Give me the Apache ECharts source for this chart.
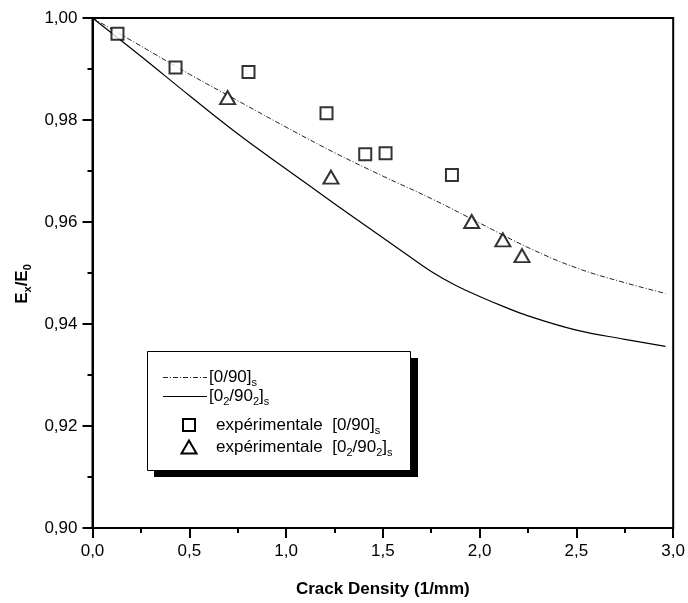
<!DOCTYPE html>
<html><head><meta charset="utf-8">
<script src="https://cdn.jsdelivr.net/npm/echarts@6/dist/echarts.min.js"></script>
<style>html,body{margin:0;padding:0;background:#fff}#c{width:688px;height:603px}</style>
</head><body><div id="c"></div>
<script>
// model curves
const curve0_90X  = [0, 0.25, 0.5, 0.75, 1.0, 1.25, 1.5, 1.75, 2.0, 2.25, 2.5, 2.75, 2.96];
const curve0_90   = [1.0, 0.9945, 0.9890, 0.9838, 0.9786, 0.9736, 0.9690, 0.9646, 0.9598, 0.9550, 0.9510, 0.9481, 0.9460];
const curve02X    = [0, 0.25, 0.5, 0.75, 1.0, 1.25, 1.5, 1.625, 1.75, 1.875, 2.0, 2.125, 2.25, 2.5, 2.75, 2.96];
const curve02_902 = [1.0, 0.9925, 0.9848, 0.9773, 0.9704, 0.9636, 0.9569, 0.9536, 0.9503, 0.9476, 0.9454, 0.9434, 0.9416, 0.9388, 0.9370, 0.9356];
// experimental points
const exp0_90X   = [0.129, 0.429, 0.806, 1.209, 1.409, 1.514, 1.857];
const exp0_90Y   = [0.9969, 0.9903, 0.9894, 0.9813, 0.9733, 0.9735, 0.9692];
const exp02_902X = [0.698, 1.232, 1.959, 2.120, 2.219];
const exp02_902Y = [0.9844, 0.9688, 0.9601, 0.9565, 0.9534];
// axes
const xTicks = ['0,0','0,5','1,0','1,5','2,0','2,5','3,0'];
const yTicks = ['0,90','0,92','0,94','0,96','0,98','1,00'];
const xTitle = 'Crack Density (1/mm)';

const FONT = 'Liberation Sans, Arial, sans-serif';
const zip = (a, b) => a.map((v, i) => [v, b[i]]);

const subRich = {
  n: {fontSize: 17, fontFamily: FONT, color: '#000', lineHeight: 20},
  s: {fontSize: 11, fontFamily: FONT, color: '#000', lineHeight: 20, padding: [11, 0, 0, 0]}
};
const boldRich = {
  n: {fontSize: 17, fontFamily: FONT, fontWeight: 'bold', color: '#000', lineHeight: 20},
  s: {fontSize: 11, fontFamily: FONT, fontWeight: 'bold', color: '#000', lineHeight: 20, padding: [11, 0, 0, 0]}
};

const chart = echarts.init(document.getElementById('c'), null, {renderer: 'canvas'});
const axisLine = {lineStyle: {color: '#000', width: 2}};
const option = {
  backgroundColor: '#fff',
  animation: false,
  textStyle: {fontFamily: FONT},
  grid: {left: 92.5, right: 14.5, top: 18, bottom: 73, show: true, borderColor: '#000', borderWidth: 2, backgroundColor: 'transparent'},
  xAxis: {
    type: 'value', min: 0, max: 3, interval: 0.5,
    axisLine: axisLine,
    axisTick: {show: true, inside: false, length: 10, lineStyle: {color: '#000', width: 2}},
    minorTick: {show: true, splitNumber: 2, length: 5, lineStyle: {color: '#000', width: 2}},
    splitLine: {show: false},
    axisLabel: {fontSize: 17, color: '#000', fontFamily: FONT, margin: 15,
      formatter: v => xTicks[Math.round(v / 0.5)]},
    name: xTitle, nameLocation: 'middle', nameGap: 53,
    nameTextStyle: {fontSize: 17, fontWeight: 'bold', color: '#000', fontFamily: FONT}
  },
  yAxis: {
    type: 'value', min: 0.90, max: 1.00, interval: 0.02,
    axisLine: axisLine,
    axisTick: {show: true, inside: false, length: 10, lineStyle: {color: '#000', width: 2}},
    minorTick: {show: true, splitNumber: 2, length: 5, lineStyle: {color: '#000', width: 2}},
    splitLine: {show: false},
    axisLabel: {fontSize: 17, color: '#000', fontFamily: FONT, margin: 15,
      formatter: v => yTicks[Math.round((v - 0.9) / 0.02)]},
    name: '{n|E}{s|x}{n|/E}{s|0}', nameLocation: 'middle', nameGap: 52,
    nameTextStyle: {rich: boldRich, padding: [0, 22, 0, 0]}
  },
  series: [
    {name: '[0/90]s', type: 'line', data: zip(curve0_90X, curve0_90), showSymbol: false, smooth: 0.4,
     lineStyle: {color: '#222', width: 1, type: [5, 2, 1, 2]}, z: 2},
    {name: '[02/902]s', type: 'line', data: zip(curve02X, curve02_902), showSymbol: false, smooth: 0.4,
     lineStyle: {color: '#000', width: 1.2, type: 'solid'}, z: 2},
    {name: 'expérimentale [0/90]s', type: 'scatter', data: zip(exp0_90X, exp0_90Y), symbol: 'rect', symbolSize: 12,
     itemStyle: {color: '#fff', borderColor: '#000', borderWidth: 2}, z: 3},
    {name: 'expérimentale [02/902]s', type: 'scatter', data: zip(exp02_902X, exp02_902Y), symbol: 'triangle', symbolSize: [15, 13],
     itemStyle: {color: '#fff', borderColor: '#000', borderWidth: 2}, z: 3}
  ],
  graphic: [
    {type: 'rect', shape: {x: 154, y: 358, width: 264, height: 119}, style: {fill: '#000'}, z: 10},
    {type: 'rect', shape: {x: 147.5, y: 351.5, width: 263, height: 119}, style: {fill: '#fff', stroke: '#000', lineWidth: 1}, z: 11},
    {type: 'line', shape: {x1: 163, y1: 377.5, x2: 207, y2: 377.5}, style: {stroke: '#222', lineWidth: 1, lineDash: [5, 2, 1, 2]}, z: 12},
    {type: 'line', shape: {x1: 163, y1: 396.5, x2: 207, y2: 396.5}, style: {stroke: '#000', lineWidth: 1.2}, z: 12},
    {type: 'rect', shape: {x: 183, y: 419, width: 12, height: 12}, style: {fill: '#fff', stroke: '#000', lineWidth: 2}, z: 12},
    {type: 'polygon', shape: {points: [[189, 440.5], [196.5, 453.5], [181.5, 453.5]]}, style: {fill: '#fff', stroke: '#000', lineWidth: 2}, z: 12},
    {type: 'text', x: 209, y: 377.5, style: {text: '{n|[0/90]}{s|s}', rich: subRich, verticalAlign: 'middle', align: 'left'}, z: 12},
    {type: 'text', x: 209, y: 396.5, style: {text: '{n|[0}{s|2}{n|/90}{s|2}{n|]}{s|s}', rich: subRich, verticalAlign: 'middle', align: 'left'}, z: 12},
    {type: 'text', x: 216, y: 425, style: {text: '{n|expérimentale  [0/90]}{s|s}', rich: subRich, verticalAlign: 'middle', align: 'left'}, z: 12},
    {type: 'text', x: 216, y: 447, style: {text: '{n|expérimentale  [0}{s|2}{n|/90}{s|2}{n|]}{s|s}', rich: subRich, verticalAlign: 'middle', align: 'left'}, z: 12}
  ]
};
chart.setOption(option);
</script>
</body></html>
